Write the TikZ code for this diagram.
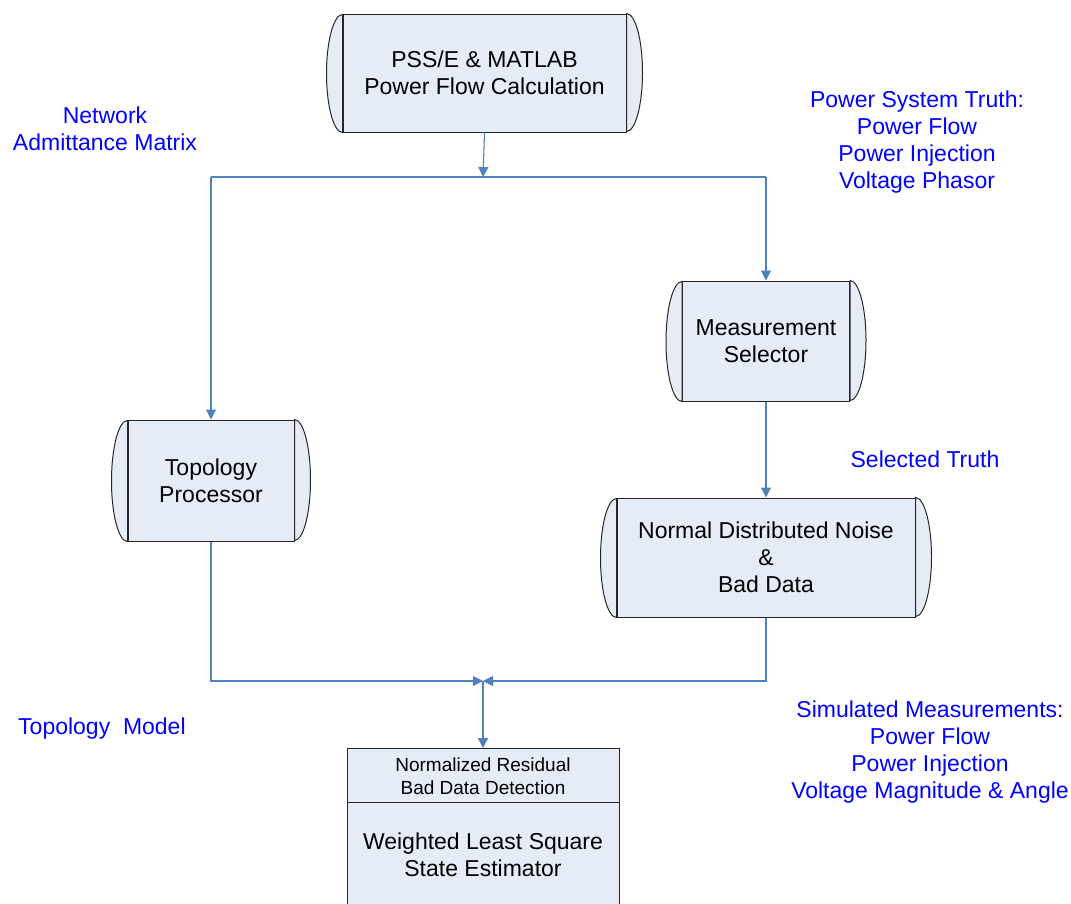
\documentclass[tikz,border=0pt]{standalone}
\usepackage{fontspec}
\setmainfont{Liberation Sans}
\usetikzlibrary{arrows.meta}

\definecolor{flow}{HTML}{4F81BD}
\definecolor{boxfill}{HTML}{E6ECF6}
\definecolor{labelblue}{HTML}{0000FF}

\tikzset{
  proc/.style={draw=black!85, fill=boxfill, line width=1pt, rectangle,
    inner sep=0pt, align=center, font=\fontsize{23}{27}\selectfont},
  bulge/.style={draw=black!85, fill=boxfill, line width=1pt},
  link/.style={draw=flow, line width=1.1pt},
  arrow/.style={link, -{Triangle[length=10pt,width=10pt]}},
  note/.style={text=labelblue, align=center, inner sep=0pt,
    font=\fontsize{23}{27}\selectfont},
  small/.style={align=center, inner sep=0pt, font=\fontsize{19}{23}\selectfont},
  big/.style={align=center, inner sep=0pt, font=\fontsize{23}{27}\selectfont},
}

% curved end caps on both sides of a process node (name, half height in pt)
\newcommand\sidecaps[2]{%
  \path[bulge] (#1.north east) arc[start angle=90,end angle=-90,x radius=16pt,y radius=#2pt] -- cycle;
  \path[bulge] (#1.south west) arc[start angle=270,end angle=90,x radius=16pt,y radius=#2pt] -- cycle;
}

\begin{document}
\begin{tikzpicture}[x=1pt,y=-1pt]
\useasboundingbox (0,0) rectangle (1071,903);
\clip (0,0) rectangle (1071,903);

% process blocks
\node[proc, minimum width=283pt, minimum height=118pt] (pss) at (484.5,73)
  {PSS/E \& MATLAB\\Power Flow Calculation};
\sidecaps{pss}{59}

\node[proc, minimum width=166pt, minimum height=121pt] (topo) at (211,480.5)
  {Topology\\Processor};
\sidecaps{topo}{60.5}

\node[proc, minimum width=167pt, minimum height=120pt] (meas) at (766,341)
  {Measurement\\Selector};
\sidecaps{meas}{60}

\node[proc, minimum width=298pt, minimum height=119pt] (noise) at (766,557.5)
  {Normal Distributed Noise\\\&\\Bad Data};
\sidecaps{noise}{59.5}

% estimator block with its detection header
\node[proc, minimum width=272pt, minimum height=162pt, anchor=north] (wls) at (483,748) {};
\draw[black!85, line width=1pt] (wls.west |- 0,802) -- (wls.east |- 0,802);
\node[small] (nrd) at (483,776) {Normalized Residual\\Bad Data Detection};
\node[big] (wlse) at (483,855) {Weighted Least Square\\State Estimator};

% distribution bus
\coordinate (jt) at (483,177);
\coordinate (jtl) at (211,177);
\coordinate (jtr) at (766,177);
\draw[link] (jtl) -- (jtr);
\draw[arrow] (pss.south) -- (jt);
\draw[arrow] (jtl) -- (topo.north);
\draw[arrow] (jtr) -- (meas.north);
\draw[arrow] (meas.south) -- (noise.north);

% merging bus
\coordinate (jb) at (483,681);
\draw[arrow] (topo.south) |- (jb);
\draw[arrow] (noise.south) |- (jb);
\draw[arrow] (jb) -- (wls.north);

% labels
\node[note] (lnet) at (105,129) {Network\\Admittance Matrix};
\node[note] (ltruth) at (917,142) {Power System Truth:\\Power Flow\\Power Injection\\Voltage Phasor};
\node[note] (lsel) at (925,459) {Selected Truth};
\node[note, anchor=west] (ltopo) at (18,729) {Topology\ \ Model};
\node[note] (lsim) at (930,752) {Simulated Measurements:\\Power Flow\\Power Injection\\Voltage Magnitude \& Angle};
\end{tikzpicture}
\end{document}
